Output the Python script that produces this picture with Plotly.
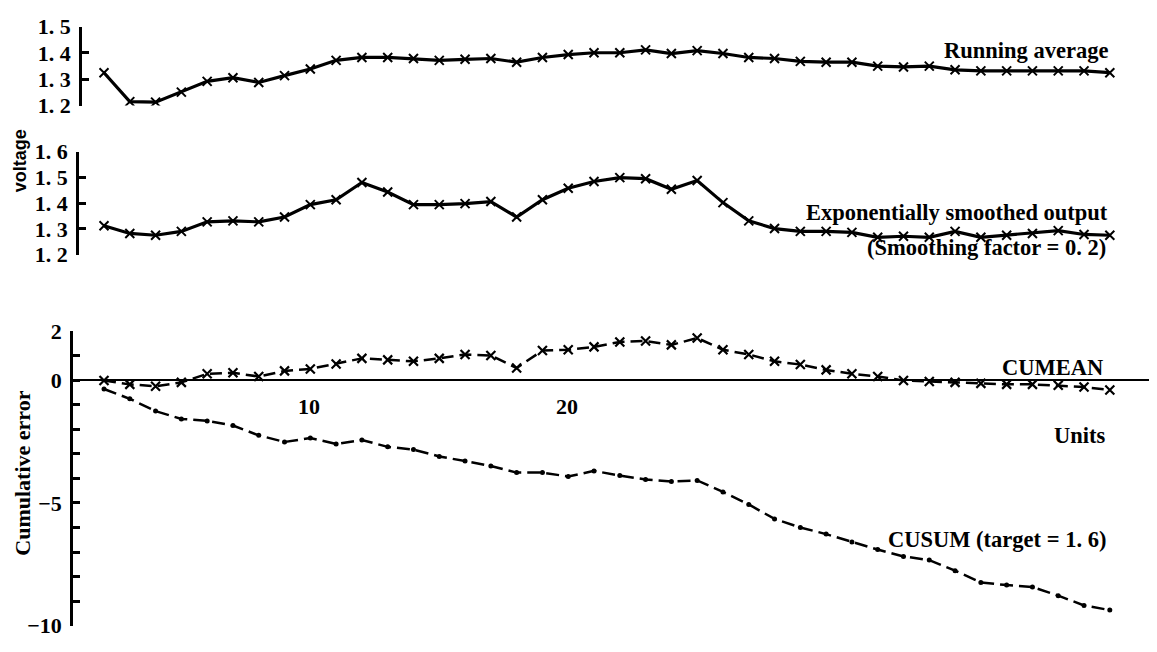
import plotly.graph_objects as go

# The page body has an 8px default margin, so the figure is drawn 8px in
# from the top-left corner of the window; size and positions account for it.
OFF = 8
W, H = 1157 - OFF, 652 - OFF

units = list(range(1, 41))

running_avg = [1.325, 1.215, 1.213, 1.251, 1.292, 1.306, 1.288, 1.314, 1.339, 1.372,
               1.383, 1.383, 1.379, 1.372, 1.376, 1.379, 1.365, 1.383, 1.394, 1.401,
               1.401, 1.412, 1.398, 1.409, 1.398, 1.383, 1.379, 1.368, 1.365, 1.365,
               1.350, 1.347, 1.350, 1.336, 1.332, 1.332, 1.332, 1.332, 1.332, 1.325]

exp_smoothed = [1.312, 1.282, 1.275, 1.290, 1.327, 1.331, 1.327, 1.346, 1.394, 1.413,
                1.480, 1.443, 1.394, 1.394, 1.398, 1.406, 1.346, 1.413, 1.458, 1.484,
                1.499, 1.495, 1.454, 1.488, 1.402, 1.331, 1.301, 1.290, 1.290, 1.286,
                1.267, 1.271, 1.267, 1.290, 1.267, 1.275, 1.282, 1.293, 1.278, 1.275]

cumean = [0.00, -0.16, -0.24, -0.08, 0.27, 0.31, 0.16, 0.39, 0.47, 0.67,
          0.90, 0.84, 0.78, 0.90, 1.06, 1.02, 0.51, 1.22, 1.25, 1.37,
          1.57, 1.61, 1.45, 1.73, 1.25, 1.06, 0.78, 0.65, 0.43, 0.27,
          0.16, 0.00, -0.04, -0.08, -0.12, -0.16, -0.16, -0.20, -0.27, -0.39]

cusum = [-0.35, -0.75, -1.25, -1.57, -1.65, -1.84, -2.24, -2.51, -2.35, -2.59,
         -2.43, -2.71, -2.82, -3.10, -3.29, -3.49, -3.76, -3.76, -3.92, -3.69,
         -3.88, -4.04, -4.12, -4.08, -4.55, -5.06, -5.65, -6.00, -6.27, -6.59,
         -6.90, -7.18, -7.33, -7.76, -8.24, -8.35, -8.43, -8.78, -9.18, -9.37]

top_ticks = [1.2, 1.3, 1.4, 1.5]
top_ticktext = ["1. 2", "1. 3", "1. 4", "1. 5"]
mid_ticks = [1.2, 1.3, 1.4, 1.5, 1.6]
mid_ticktext = ["1. 2", "1. 3", "1. 4", "1. 5", "1. 6"]
err_ticks = [2, 1, 0, -1, -2, -3, -4, -5, -6, -7, -8, -9, -10]
err_ticktext = ["2", "", "0", "", "", "", "", "\u22125", "", "", "", "", "\u221210"]
unit_ticks = [10, 20]
unit_ticktext = ["10", "20"]


def fx(px):
    return (px - OFF) / W


def fy(py):
    return 1 - (py - OFF) / H


SERIF = "Liberation Serif"
BLACK = "#000000"
tickfont = dict(family=SERIF, size=22, color=BLACK, weight="bold")

fig = go.Figure()

fig.add_trace(go.Scatter(
    x=units, y=running_avg, xaxis="x", yaxis="y", mode="lines+markers",
    line=dict(color=BLACK, width=3.2),
    marker=dict(symbol="x-thin", size=9, line=dict(color=BLACK, width=2)),
    showlegend=False))

fig.add_trace(go.Scatter(
    x=units, y=exp_smoothed, xaxis="x", yaxis="y2", mode="lines+markers",
    line=dict(color=BLACK, width=3.2),
    marker=dict(symbol="x-thin", size=9, line=dict(color=BLACK, width=2)),
    showlegend=False))

fig.add_trace(go.Scatter(
    x=units, y=cumean, xaxis="x", yaxis="y3", mode="lines+markers",
    line=dict(color=BLACK, width=2.5, dash="12px,6px"),
    marker=dict(symbol="x-thin", size=9, line=dict(color=BLACK, width=2.2)),
    showlegend=False))

fig.add_trace(go.Scatter(
    x=units, y=cusum, xaxis="x", yaxis="y3", mode="lines+markers",
    line=dict(color=BLACK, width=2.5, dash="13px,6px"),
    marker=dict(symbol="circle", size=5, color=BLACK),
    showlegend=False))

x_lo = 1 + (70 - 104) / 25.79
x_hi = 1 + (1152 - 104) / 25.79

common_y = dict(showgrid=False, zeroline=False, showline=True, linecolor=BLACK,
                linewidth=2.5, ticks="inside", ticklen=7, tickwidth=2.5,
                tickcolor=BLACK, tickfont=tickfont, anchor="free",
                ticklabelstandoff=4)

fig.update_layout(
    width=W, height=H,
    margin=dict(l=0, r=0, t=0, b=0),
    paper_bgcolor="white", plot_bgcolor="white",
    xaxis=dict(domain=[fx(70), fx(1152)], range=[x_lo, x_hi],
               anchor="free", position=fy(383),
               showgrid=False, zeroline=False, showline=True,
               linecolor=BLACK, linewidth=2, ticks="",
               tickvals=unit_ticks, ticktext=unit_ticktext,
               tickfont=tickfont, ticklabelshift=-27, ticklabelstandoff=6),
    yaxis=dict(domain=[fy(97), fy(15)], range=[1.2, 1.5],
               tickvals=top_ticks, ticktext=top_ticktext,
               position=fx(80), **common_y),
    yaxis2=dict(domain=[fy(252), fy(145)], range=[1.2, 1.6],
                tickvals=mid_ticks, ticktext=mid_ticktext,
                position=fx(77), **common_y),
    yaxis3=dict(domain=[fy(638), fy(332)], range=[-10, 2],
                tickvals=err_ticks, ticktext=err_ticktext,
                position=fx(71), **common_y),
)

annfont = dict(family=SERIF, size=22.5, color=BLACK, weight="bold")
labels = [
    ("Running average", 1110, 40),
    ("Exponentially smoothed output", 1110, 208),
    ("(Smoothing factor = 0. 2)", 1108, 245),
    ("CUMEAN", 1105, 370),
    ("Units", 1108, 440),
    ("CUSUM (target = 1. 6)", 1108, 548),
]
for text, rx, cy in labels:
    fig.add_annotation(text=text, x=fx(rx), y=fy(cy), xref="paper", yref="paper",
                       xanchor="right", yanchor="middle", showarrow=False,
                       font=annfont)

fig.add_annotation(text="voltage", x=fx(20), y=fy(155), xref="paper", yref="paper",
                   xanchor="center", yanchor="middle", showarrow=False, textangle=-90,
                   font=dict(family="Liberation Sans", size=18, color=BLACK, weight="bold"))
fig.add_annotation(text="Cumulative error", x=fx(23), y=fy(480), xref="paper", yref="paper",
                   xanchor="center", yanchor="middle", showarrow=False, textangle=-90,
                   font=dict(family=SERIF, size=22, color=BLACK, weight="bold"))

fig.write_html("out.html")
